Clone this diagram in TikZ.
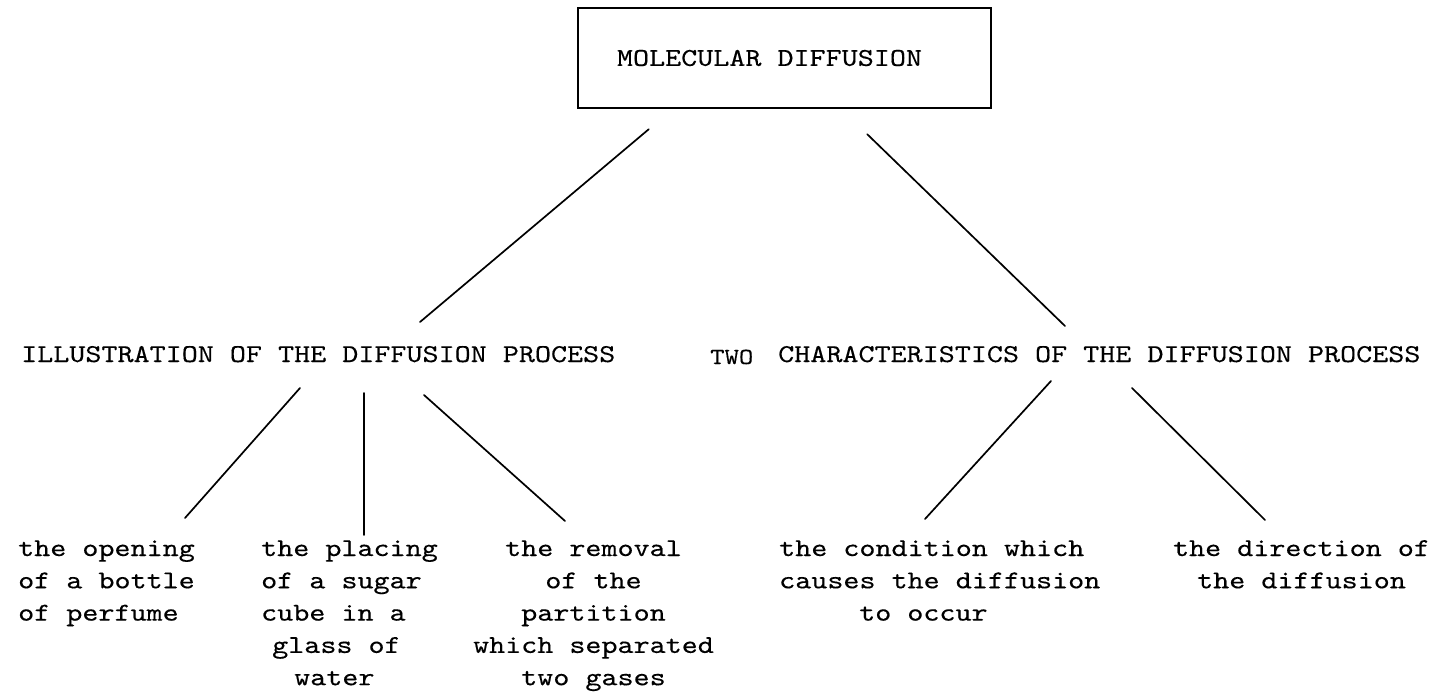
\documentclass[tikz,border=0pt]{standalone}
\usepackage{fontspec}
% slab-serif typewriter face, widened to 12 characters per inch and a slightly heavier stroke
\newfontfamily\twfam{lmmono10-regular.otf}[FakeStretch=1.19, FakeBold=0.3]
% 6 lines per inch
\newcommand\twfont{\fontsize{25.7}{32.3}\selectfont\twfam}
\newcommand\twsmall{\fontsize{23}{28}\selectfont\twfam}
\begin{document}
\begin{tikzpicture}[x=1pt,y=-1pt,
  conn/.style={line width=1.7pt, line cap=round},
  lbl/.style={inner sep=0pt, font=\twfont},
  titlebox/.style={draw, line width=2.4pt, minimum width=413pt, minimum height=100pt, inner sep=0pt, font=\twfont}]
\useasboundingbox[fill=white] (0,0) rectangle (1445,696);

% top concept
\node[titlebox] (title) at (784.5,58) {MOLECULAR DIFFUSION\hspace*{30pt}};

% second level
\node[lbl, anchor=base west] (ill) at (21,362) {ILLUSTRATION OF THE DIFFUSION PROCESS};
\node[lbl, anchor=base west, font=\twsmall] (two) at (710,364) {TWO};
\node[lbl, anchor=base west] (chr) at (778,362) {CHARACTERISTICS OF THE DIFFUSION PROCESS};

% third level: illustrations
\node[lbl, anchor=base west] (opening) at (18,556)
  {\begin{tabular}[t]{@{}l@{}}the opening\\of a bottle\\of perfume\end{tabular}};
\node[lbl, anchor=base west] (placing) at (261,556)
  {\begin{tabular}[t]{@{}l@{}}the placing\\of a sugar\\cube in a\\\hspace*{11pt}glass of\\\hspace*{33pt}water\end{tabular}};
\node[lbl, anchor=base] (removal) at (593.5,556)
  {\begin{tabular}[t]{@{}c@{}}the removal\\of the\\partition\\which separated\\two gases\end{tabular}};

% third level: characteristics
\node[lbl, anchor=base west] (condition) at (779,556)
  {\begin{tabular}[t]{@{}l@{}}the condition which\\causes the diffusion\\\hspace*{80pt}to occur\end{tabular}};
\node[lbl, anchor=base] (direction) at (1301.5,556)
  {\begin{tabular}[t]{@{}c@{}}the direction of\\the diffusion\end{tabular}};

% connectors
\draw[conn] ([shift={(72,20)}]title.south west) -- ([shift={(399,-40)}]ill.base west);
\draw[conn] ([shift={(-125,25)}]title.south east) -- ([shift={(287,-36)}]chr.base west);

\draw[conn] ([shift={(279,26)}]ill.base west) -- ([shift={(167,-38)}]opening.base west);
\draw[conn] ([shift={(343,31)}]ill.base west) -- ([shift={(103,-21)}]placing.base west);
\draw[conn] ([shift={(403,33)}]ill.base west) -- ([shift={(-28.5,-35)}]removal.base);

\draw[conn] ([shift={(273,19)}]chr.base west) -- ([shift={(146,-37)}]condition.base west);
\draw[conn] ([shift={(354,26)}]chr.base west) -- ([shift={(-36.5,-36)}]direction.base);
\end{tikzpicture}
\end{document}
